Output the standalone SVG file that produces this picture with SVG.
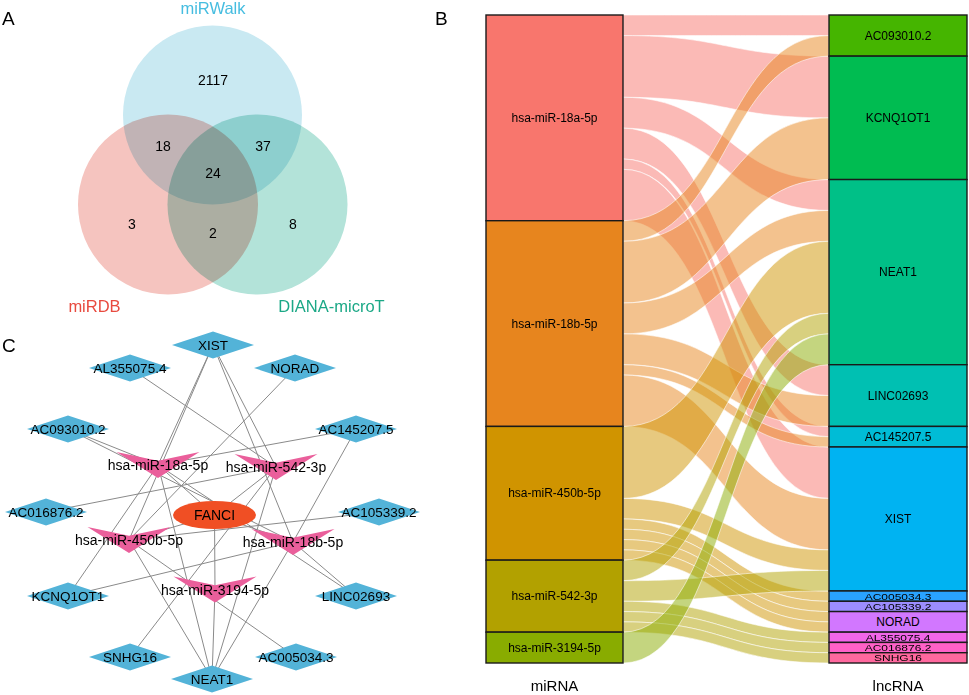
<svg xmlns="http://www.w3.org/2000/svg" width="969" height="695" viewBox="0 0 969 695">
<style>
text{font-family:"Liberation Sans",Arial,Helvetica,sans-serif;fill:#000}
.pl{font-size:19px}
.vn{font-size:14px;text-anchor:middle}
.vl{font-size:16.5px;text-anchor:middle}
.vc{mix-blend-mode:multiply}
.ed line{stroke:#8a8a8a;stroke-width:1}
.dm{fill:#53b3d8}
.vee{fill:#ea5f9b}
.dl{font-size:13.5px;text-anchor:middle;dominant-baseline:central}
.ml{font-size:14px;text-anchor:middle;dominant-baseline:central}
.fl path{fill-opacity:.5;stroke:#fff;stroke-width:.7;stroke-opacity:.8}
.nd rect{stroke:#1a1a1a;stroke-width:1.4}
.sl{font-size:12px;text-anchor:middle;dominant-baseline:central}
.ss{font-size:12px;text-anchor:middle;dominant-baseline:central}
.ax{font-size:15px;text-anchor:middle}
</style>
<rect width="969" height="695" fill="#fff"/>

<!-- Panel labels -->
<text class="pl" x="2" y="25">A</text>
<text class="pl" x="435" y="25">B</text>
<text class="pl" x="2" y="352">C</text>

<!-- Panel A: Venn -->
<g id="venn">
<g style="isolation:isolate">
<circle id="set-mirwalk" class="vc" cx="212.5" cy="115" r="89.5" fill="#c9e9f2"/>
<circle id="set-mirdb" class="vc" cx="168" cy="204.5" r="90" fill="#f5c4bf"/>
<circle id="set-diana" class="vc" cx="257.5" cy="204.5" r="90" fill="#b3e3d9"/>
</g>
<text class="vn" x="213" y="85">2117</text>
<text class="vn" x="163" y="151">18</text>
<text class="vn" x="263" y="151">37</text>
<text class="vn" x="213" y="178">24</text>
<text class="vn" x="132" y="229">3</text>
<text class="vn" x="293" y="229">8</text>
<text class="vn" x="213" y="238">2</text>
<text class="vl" x="213" y="14" style="fill:#46bde0">miRWalk</text>
<text class="vl" x="94.5" y="312" style="fill:#e84a3f">miRDB</text>
<text class="vl" x="331.5" y="312" style="fill:#1ba886">DIANA-microT</text>
</g>

<!-- Panel B: Sankey flows -->
<g id="flows" class="fl">
<g fill="#F8766D">
<path d="M623,15 C726,15 726,15 829,15 L829,35.57 C726,35.57 726,35.57 623,35.57 Z"/>
<path d="M623,35.57 C726,35.57 726,56.14 829,56.14 L829,117.86 C726,117.86 726,97.29 623,97.29 Z"/>
<path d="M623,97.29 C726,97.29 726,179.57 829,179.57 L829,210.43 C726,210.43 726,128.14 623,128.14 Z"/>
<path d="M623,128.14 C726,128.14 726,364.71 829,364.71 L829,395.57 C726,395.57 726,159 623,159 Z"/>
<path d="M623,159 C726,159 726,426.43 829,426.43 L829,436.71 C726,436.71 726,169.29 623,169.29 Z"/>
<path d="M623,169.29 C726,169.29 726,447 829,447 L829,498.43 C726,498.43 726,220.71 623,220.71 Z"/>
</g>
<g fill="#E7851E">
<path d="M623,220.71 C726,220.71 726,35.57 829,35.57 L829,56.14 C726,56.14 726,241.29 623,241.29 Z"/>
<path d="M623,241.29 C726,241.29 726,117.86 829,117.86 L829,179.57 C726,179.57 726,303 623,303 Z"/>
<path d="M623,303 C726,303 726,210.43 829,210.43 L829,241.29 C726,241.29 726,333.86 623,333.86 Z"/>
<path d="M623,333.86 C726,333.86 726,395.57 829,395.57 L829,426.43 C726,426.43 726,364.71 623,364.71 Z"/>
<path d="M623,364.71 C726,364.71 726,436.71 829,436.71 L829,447 C726,447 726,375 623,375 Z"/>
<path d="M623,375 C726,375 726,498.43 829,498.43 L829,549.86 C726,549.86 726,426.43 623,426.43 Z"/>
</g>
<g fill="#D09400">
<path d="M623,426.43 C726,426.43 726,241.29 829,241.29 L829,313.29 C726,313.29 726,498.43 623,498.43 Z"/>
<path d="M623,498.43 C726,498.43 726,549.86 829,549.86 L829,570.43 C726,570.43 726,519 623,519 Z"/>
<path d="M623,519 C726,519 726,591 829,591 L829,601.29 C726,601.29 726,529.29 623,529.29 Z"/>
<path d="M623,529.29 C726,529.29 726,601.29 829,601.29 L829,611.57 C726,611.57 726,539.57 623,539.57 Z"/>
<path d="M623,539.57 C726,539.57 726,611.57 829,611.57 L829,621.86 C726,621.86 726,549.86 623,549.86 Z"/>
<path d="M623,549.86 C726,549.86 726,621.86 829,621.86 L829,632.14 C726,632.14 726,560.14 623,560.14 Z"/>
</g>
<g fill="#B2A100">
<path d="M623,560.14 C726,560.14 726,313.29 829,313.29 L829,333.86 C726,333.86 726,580.71 623,580.71 Z"/>
<path d="M623,580.71 C726,580.71 726,570.43 829,570.43 L829,591 C726,591 726,601.29 623,601.29 Z"/>
<path d="M623,601.29 C726,601.29 726,632.14 829,632.14 L829,642.43 C726,642.43 726,611.57 623,611.57 Z"/>
<path d="M623,611.57 C726,611.57 726,642.43 829,642.43 L829,652.71 C726,652.71 726,621.86 623,621.86 Z"/>
<path d="M623,621.86 C726,621.86 726,652.71 829,652.71 L829,663 C726,663 726,632.14 623,632.14 Z"/>
</g>
<g fill="#89AC00">
<path d="M623,632.14 C726,632.14 726,333.86 829,333.86 L829,364.71 C726,364.71 726,663 623,663 Z"/>
</g>
</g>

<!-- Sankey left nodes -->
<g id="s-18a" class="nd"><rect x="486" y="15" width="137" height="205.71" fill="#F8766D"/><text class="sl" x="554.5" y="118">hsa-miR-18a-5p</text></g>
<g id="s-18b" class="nd"><rect x="486" y="220.71" width="137" height="205.72" fill="#E7851E"/><text class="sl" x="554.5" y="324">hsa-miR-18b-5p</text></g>
<g id="s-450b" class="nd"><rect x="486" y="426.43" width="137" height="133.71" fill="#D09400"/><text class="sl" x="554.5" y="493">hsa-miR-450b-5p</text></g>
<g id="s-542" class="nd"><rect x="486" y="560.14" width="137" height="72" fill="#B2A100"/><text class="sl" x="554.5" y="596">hsa-miR-542-3p</text></g>
<g id="s-3194" class="nd"><rect x="486" y="632.14" width="137" height="30.86" fill="#89AC00"/><text class="sl" x="554.5" y="647.5">hsa-miR-3194-5p</text></g>

<!-- Sankey right nodes -->
<g id="s-AC093010" class="nd"><rect x="829" y="15" width="138" height="41.14" fill="#45B500"/><text class="sl" x="898" y="35.6">AC093010.2</text></g>
<g id="s-KCNQ1OT1" class="nd"><rect x="829" y="56.14" width="138" height="123.43" fill="#00BC51"/><text class="sl" x="898" y="117.9">KCNQ1OT1</text></g>
<g id="s-NEAT1" class="nd"><rect x="829" y="179.57" width="138" height="185.14" fill="#00C087"/><text class="sl" x="898" y="272">NEAT1</text></g>
<g id="s-LINC02693" class="nd"><rect x="829" y="364.71" width="138" height="61.72" fill="#00C0B2"/><text class="sl" x="898" y="395.6">LINC02693</text></g>
<g id="s-AC145207" class="nd"><rect x="829" y="426.43" width="138" height="20.57" fill="#00BCD6"/><text class="sl" x="898" y="436.7">AC145207.5</text></g>
<g id="s-XIST" class="nd"><rect x="829" y="447" width="138" height="144" fill="#00B3F2"/><text class="sl" x="898" y="519">XIST</text></g>
<g id="s-AC005034" class="nd"><rect x="829" y="591" width="138" height="10.29" fill="#29A3FF"/><text class="ss" transform="translate(898 596.1) scale(1 0.8)">AC005034.3</text></g>
<g id="s-AC105339" class="nd"><rect x="829" y="601.29" width="138" height="10.28" fill="#9C8DFF"/><text class="ss" transform="translate(898 606.4) scale(1 0.8)">AC105339.2</text></g>
<g id="s-NORAD" class="nd"><rect x="829" y="611.57" width="138" height="20.57" fill="#D277FF"/><text class="sl" x="898" y="621.9">NORAD</text></g>
<g id="s-AL355075" class="nd"><rect x="829" y="632.14" width="138" height="10.29" fill="#F166E8"/><text class="ss" transform="translate(898 637.3) scale(1 0.8)">AL355075.4</text></g>
<g id="s-AC016876" class="nd"><rect x="829" y="642.43" width="138" height="10.28" fill="#FF61C7"/><text class="ss" transform="translate(898 647.6) scale(1 0.8)">AC016876.2</text></g>
<g id="s-SNHG16" class="nd"><rect x="829" y="652.71" width="138" height="10.29" fill="#FF689E"/><text class="ss" transform="translate(898 657.9) scale(1 0.8)">SNHG16</text></g>

<text class="ax" x="554.5" y="691">miRNA</text>
<text class="ax" x="898" y="691">lncRNA</text>

<!-- Panel C: network edges -->
<g id="edges" class="ed">
<line x1="158" y1="465" x2="68" y2="429"/>
<line x1="158" y1="465" x2="68" y2="596"/>
<line x1="158" y1="465" x2="212" y2="679"/>
<line x1="158" y1="465" x2="356" y2="596"/>
<line x1="158" y1="465" x2="356" y2="429"/>
<line x1="158" y1="465" x2="213" y2="345"/>
<line x1="158" y1="465" x2="214.5" y2="515"/>
<line x1="293" y1="542" x2="68" y2="429"/>
<line x1="293" y1="542" x2="68" y2="596"/>
<line x1="293" y1="542" x2="212" y2="679"/>
<line x1="293" y1="542" x2="356" y2="596"/>
<line x1="293" y1="542" x2="356" y2="429"/>
<line x1="293" y1="542" x2="213" y2="345"/>
<line x1="293" y1="542" x2="214.5" y2="515"/>
<line x1="129" y1="540" x2="212" y2="679"/>
<line x1="129" y1="540" x2="213" y2="345"/>
<line x1="129" y1="540" x2="296" y2="657"/>
<line x1="129" y1="540" x2="379" y2="512"/>
<line x1="129" y1="540" x2="295" y2="368"/>
<line x1="129" y1="540" x2="214.5" y2="515"/>
<line x1="276" y1="467" x2="212" y2="679"/>
<line x1="276" y1="467" x2="213" y2="345"/>
<line x1="276" y1="467" x2="130" y2="368"/>
<line x1="276" y1="467" x2="46" y2="512"/>
<line x1="276" y1="467" x2="130" y2="657"/>
<line x1="276" y1="467" x2="214.5" y2="515"/>
<line x1="215" y1="589.5" x2="212" y2="679"/>
<line x1="215" y1="589.5" x2="214.5" y2="515"/>
</g>

<!-- Panel C: nodes -->
<g id="n-XIST"><polygon class="dm" points="172,345 213,331.5 254,345 213,358.5"/><text class="dl" x="213" y="345">XIST</text></g>
<g id="n-AL355075"><polygon class="dm" points="89,368 130,354.5 171,368 130,381.5"/><text class="dl" x="130" y="368">AL355075.4</text></g>
<g id="n-NORAD"><polygon class="dm" points="254,368 295,354.5 336,368 295,381.5"/><text class="dl" x="295" y="368">NORAD</text></g>
<g id="n-AC093010"><polygon class="dm" points="27,429 68,415.5 109,429 68,442.5"/><text class="dl" x="68" y="429">AC093010.2</text></g>
<g id="n-AC145207"><polygon class="dm" points="315,429 356,415.5 397,429 356,442.5"/><text class="dl" x="356" y="429">AC145207.5</text></g>
<g id="n-AC016876"><polygon class="dm" points="5,512 46,498.5 87,512 46,525.5"/><text class="dl" x="46" y="512">AC016876.2</text></g>
<g id="n-AC105339"><polygon class="dm" points="338,512 379,498.5 420,512 379,525.5"/><text class="dl" x="379" y="512">AC105339.2</text></g>
<g id="n-KCNQ1OT1"><polygon class="dm" points="27,596 68,582.5 109,596 68,609.5"/><text class="dl" x="68" y="596">KCNQ1OT1</text></g>
<g id="n-LINC02693"><polygon class="dm" points="315,596 356,582.5 397,596 356,609.5"/><text class="dl" x="356" y="596">LINC02693</text></g>
<g id="n-SNHG16"><polygon class="dm" points="89,657 130,643.5 171,657 130,670.5"/><text class="dl" x="130" y="657">SNHG16</text></g>
<g id="n-AC005034"><polygon class="dm" points="255,657 296,643.5 337,657 296,670.5"/><text class="dl" x="296" y="657">AC005034.3</text></g>
<g id="n-NEAT1"><polygon class="dm" points="171,679 212,665.5 253,679 212,692.5"/><text class="dl" x="212" y="679">NEAT1</text></g>

<g id="n-FANCI"><ellipse cx="214.5" cy="515" rx="41.5" ry="14" fill="#f04f24"/><text class="ml" x="214.5" y="515">FANCI</text></g>
<g id="n-18a"><polygon class="vee" points="116.5,452 158,460.7 199.5,452 158,478"/><text class="ml" x="158" y="465">hsa-miR-18a-5p</text></g>
<g id="n-542"><polygon class="vee" points="234.5,454 276,462.7 317.5,454 276,480"/><text class="ml" x="276" y="467">hsa-miR-542-3p</text></g>
<g id="n-450b"><polygon class="vee" points="87.5,527 129,535.7 170.5,527 129,553"/><text class="ml" x="129" y="540">hsa-miR-450b-5p</text></g>
<g id="n-18b"><polygon class="vee" points="251.5,529 293,537.7 334.5,529 293,555"/><text class="ml" x="293" y="542">hsa-miR-18b-5p</text></g>
<g id="n-3194"><polygon class="vee" points="173.5,576.5 215,585.2 256.5,576.5 215,602.5"/><text class="ml" x="215" y="589.5">hsa-miR-3194-5p</text></g>
</svg>
